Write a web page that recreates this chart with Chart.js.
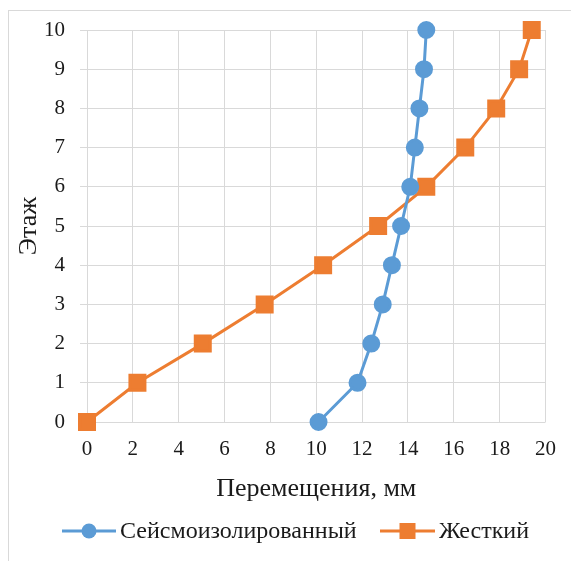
<!DOCTYPE html>
<html>
<head>
<meta charset="utf-8">
<script src="https://cdn.jsdelivr.net/npm/chart.js@4/dist/chart.umd.min.js"></script>
<style>
html,body{margin:0;padding:0;background:#fff}
#wrap{position:relative;width:571px;height:561px}
</style>
</head>
<body>
<div id="wrap"><canvas id="chart" width="571" height="561"></canvas></div>
<script>
const floors=[0,1,2,3,4,5,6,7,8,9,10]
const isolated=[10.1,11.8,12.4,12.9,13.3,13.7,14.1,14.3,14.5,14.7,14.8]
const rigid=[0,2.2,5.05,7.75,10.3,12.7,14.8,16.5,17.85,18.85,19.4]
const names=["Сейсмоизолированный","Жесткий"]
const colors=["#5b9bd5","#ed7d31"]

function pts(xs){
return xs.map((x,i)=>({x:x,y:floors[i]}))
}

const frame={
id:"frame",
beforeDraw(c){
let ctx=c.ctx
ctx.save()
ctx.strokeStyle="#d9d9d9"
ctx.lineWidth=1
ctx.strokeRect(8.5,10.5,600,600)
ctx.restore()
}
}

const legend={
id:"legendLine",
afterDraw(c){
let ctx=c.ctx
ctx.save()
ctx.font="24px 'Liberation Serif'"
ctx.textBaseline="middle"
let y=531
let items=[{x0:62,x1:116,style:"circle"},{x0:380,x1:435,style:"rect"}]
items.forEach((it,i)=>{
ctx.strokeStyle=colors[i]
ctx.lineWidth=3
ctx.beginPath()
ctx.moveTo(it.x0,y)
ctx.lineTo(it.x1,y)
ctx.stroke()
ctx.fillStyle=colors[i]
let cx=(it.x0+it.x1)/2
if(it.style==="circle"){
ctx.beginPath()
ctx.arc(cx,y,7.5,0,Math.PI*2)
ctx.fill()
}else{
ctx.fillRect(cx-8,y-8,16,16)
}
ctx.fillStyle="#1a1a1a"
ctx.fillText(names[i],it.x1+4,y+1)
})
ctx.restore()
}
}

new Chart(document.getElementById("chart"),{
type:"scatter",
data:{
datasets:[{
label:names[0],
data:pts(isolated),
showLine:true,
clip:false,
borderColor:colors[0],
backgroundColor:colors[0],
borderWidth:3,
pointStyle:"circle",
pointRadius:7.5,
pointHoverRadius:7.5
},{
label:names[1],
data:pts(rigid),
showLine:true,
clip:false,
borderColor:colors[1],
backgroundColor:colors[1],
borderWidth:3,
pointStyle:"rect",
pointRadius:10.6,
pointHoverRadius:10.6
}]
},
options:{
responsive:false,
animation:false,
layout:{padding:{left:14,right:25,top:30,bottom:56}},
plugins:{legend:{display:false},tooltip:{enabled:false}},
scales:{
x:{
min:0,max:20,
ticks:{stepSize:2,color:"#1a1a1a",font:{family:"Liberation Serif",size:21},padding:15},
grid:{color:"#d9d9d9",drawTicks:false},
border:{display:false},
title:{display:true,text:"Перемещения, мм",color:"#1a1a1a",font:{family:"Liberation Serif",size:26},padding:{top:4,bottom:0}},
afterFit(s){s.height=83}
},
y:{
min:0,max:10,
ticks:{stepSize:1,color:"#1a1a1a",font:{family:"Liberation Serif",size:21},padding:15},
grid:{color:"#d9d9d9",drawTicks:true,tickLength:7,tickColor:"#d9d9d9"},
border:{display:false},
title:{display:true,text:"Этаж",color:"#1a1a1a",font:{family:"Liberation Serif",size:26},padding:{top:0,bottom:0}},
afterFit(s){s.width=73}
}
}
},
plugins:[frame,legend]
})
</script>
</body>
</html>
